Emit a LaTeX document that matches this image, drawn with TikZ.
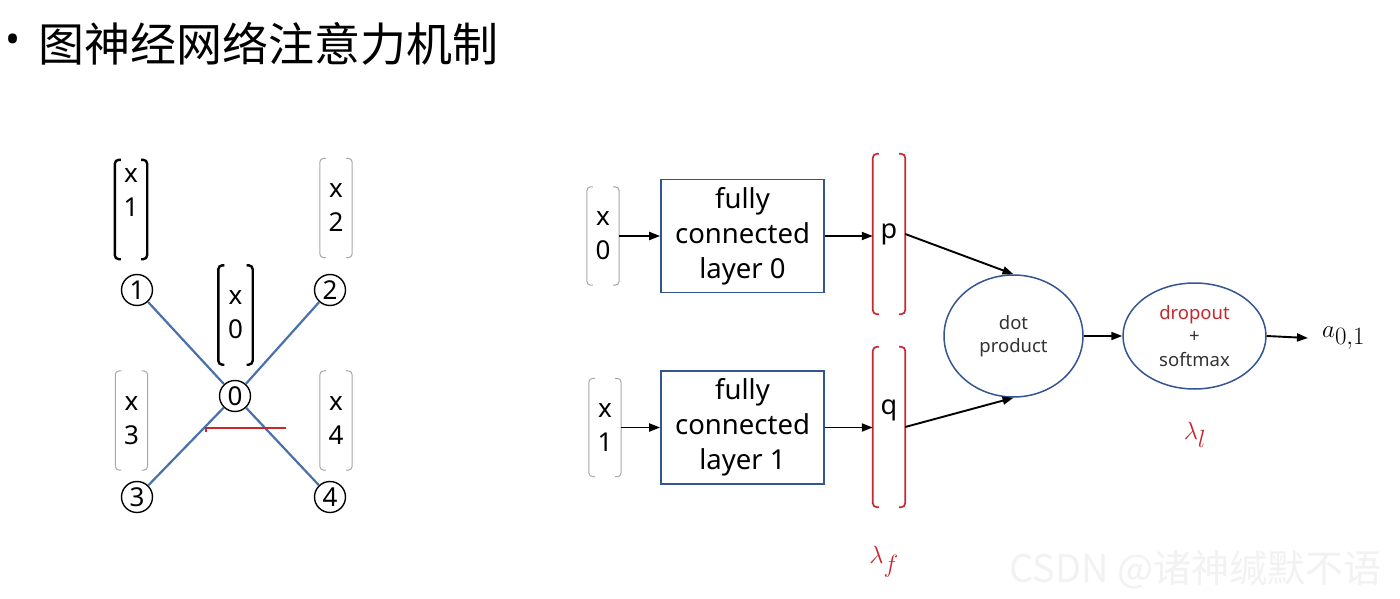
\documentclass[tikz,border=0pt]{standalone}
\usepackage{fontspec}
\setmainfont{Noto Sans}
\newfontfamily\cjk{Noto Sans CJK SC}
\usetikzlibrary{arrows.meta,shapes.geometric}
\definecolor{edgeblue}{HTML}{4A70AE}
\definecolor{boxblue}{HTML}{34558F}
\definecolor{myred}{HTML}{C8282D}
\definecolor{lightbr}{HTML}{A8A8A8}
\newcommand\brkts[2]{%
  \draw[#2] ([xshift=6pt]#1.north west) -- (#1.north west) -- (#1.south west) -- ([xshift=6pt]#1.south west);
  \draw[#2] ([xshift=-6pt]#1.north east) -- (#1.north east) -- (#1.south east) -- ([xshift=-6pt]#1.south east);}
\begin{document}
\begin{tikzpicture}[x=1pt,y=-1pt,
  vecbox/.style={minimum width=32pt, minimum height=99pt, inner sep=0pt, align=center, font=\fontsize{26}{34}\selectfont},
  thickbr/.style={line width=2.4pt, rounded corners=4pt, black},
  thinbr/.style={line width=1pt, rounded corners=4pt, lightbr},
  redbr/.style={line width=1.7pt, rounded corners=4pt, myred},
  num/.style={circle, draw, line width=1.4pt, minimum size=31pt, inner sep=0pt, font=\fontsize{26}{26}\selectfont},
  edge/.style={edgeblue, line width=2.2pt},
  fcbox/.style={draw=boxblue, line width=1.6pt, minimum width=163pt, minimum height=113pt, inner sep=0pt, align=center, font=\fontsize{27.5}{35}\selectfont},
  oval/.style={ellipse, draw=boxblue, line width=1.5pt, inner sep=0pt, align=center, font=\fontsize{18.5}{23.5}\selectfont, text=black!80},
  arr/.style={-{Triangle[length=11pt,width=8pt]}, line width=1.9pt},
  lam/.style={text=myred, font=\fontsize{38}{38}\selectfont}
]
\useasboundingbox[fill=white] (0,0) rectangle (1400,599);

% title
\node[inner sep=0pt, font=\fontsize{40}{40}\selectfont] (bullet) at (13,44) {•};
\node[anchor=west, inner sep=0pt, font=\cjk\fontsize{46}{46}\selectfont] (title) at (38,44) {图神经网络注意力机制};

% left graph
\node[num] (n1) at (137,290) {1};
\node[num] (n2) at (330,290) {2};
\node[num] (n3) at (137,497) {3};
\node[num] (n4) at (330,497) {4};
\node[num] (n0) at (235,396) {0};
\draw[edge] (n1) -- (n0);
\draw[edge] (n2) -- (n0);
\draw[edge] (n3) -- (n0);
\draw[edge] (n4) -- (n0);
\draw[myred, line width=2.2pt] (206,432) -- (206,428) -- (286,428);

\node[vecbox] (lx1) at (131,209.5) {x\\1\\\phantom{1}};
\brkts{lx1}{thickbr}
\node[vecbox] (lx2) at (336,208) {x\\2};
\brkts{lx2}{thinbr}
\node[vecbox, minimum width=34pt] (lx0) at (235.5,315) {x\\0};
\brkts{lx0}{thickbr}
\node[vecbox] (lx3) at (131.5,420.5) {x\\3};
\brkts{lx3}{thinbr}
\node[vecbox] (lx4) at (336,420.5) {x\\4};
\brkts{lx4}{thinbr}

% right pipeline
\node[vecbox, minimum height=98pt] (rx0) at (603,236) {x\\0};
\brkts{rx0}{thinbr}
\node[vecbox, minimum height=98pt] (rx1) at (605,427.5) {x\\1};
\brkts{rx1}{thinbr}

\node[fcbox] (fc0) at (742.5,236) {fully\\connected\\layer 0};
\node[fcbox] (fc1) at (742.5,427.5) {fully\\connected\\layer 1};

\node[vecbox, minimum height=160pt, font=\fontsize{27}{30}\selectfont] (pv) at (889,234) {p};
\brkts{pv}{redbr}
\node[vecbox, minimum height=160pt] (qv) at (889,427) {};
\node[font=\fontsize{27}{30}\selectfont, inner sep=0pt] (qlab) at (889,410) {q};
\brkts{qv}{redbr}

\node[oval, minimum width=139pt, minimum height=122pt] (dp) at (1013.5,336) {dot\\product};
\node[oval, minimum width=143pt, minimum height=106pt] (ds) at (1194.5,336) {\textcolor{myred}{dropout}\\+\\softmax};
\node[anchor=west, inner xsep=14pt, inner ysep=0pt, font=\fontsize{37}{37}\selectfont] (aout) at (1308,338) {$a_{0,1}$};

\draw[arr] (rx0.east) -- (fc0.west |- rx0.east);
\draw[arr] (rx1.east) -- (fc1.west |- rx1.east);
\draw[arr] (fc0.east) -- (pv.west |- fc0.east);
\draw[arr] (fc1.east) -- (qv.west |- fc1.east);
\draw[arr] (pv.east) -- (dp.north);
\draw[arr] (qv.east) -- (dp.south);
\draw[arr] (dp.east) -- (ds.west);
\draw[arr] (ds.east) -- (aout.west);

\node[lam] (laml) at (1195,435) {$\lambda_l$};
\node[lam] (lamf) at (884,562) {$\lambda_f$};

% watermark
\node[text=black!5, font=\cjk\fontsize{38}{40}\selectfont, anchor=west] (wm) at (1006,570) {CSDN @诸神缄默不语};
\end{tikzpicture}
\end{document}
